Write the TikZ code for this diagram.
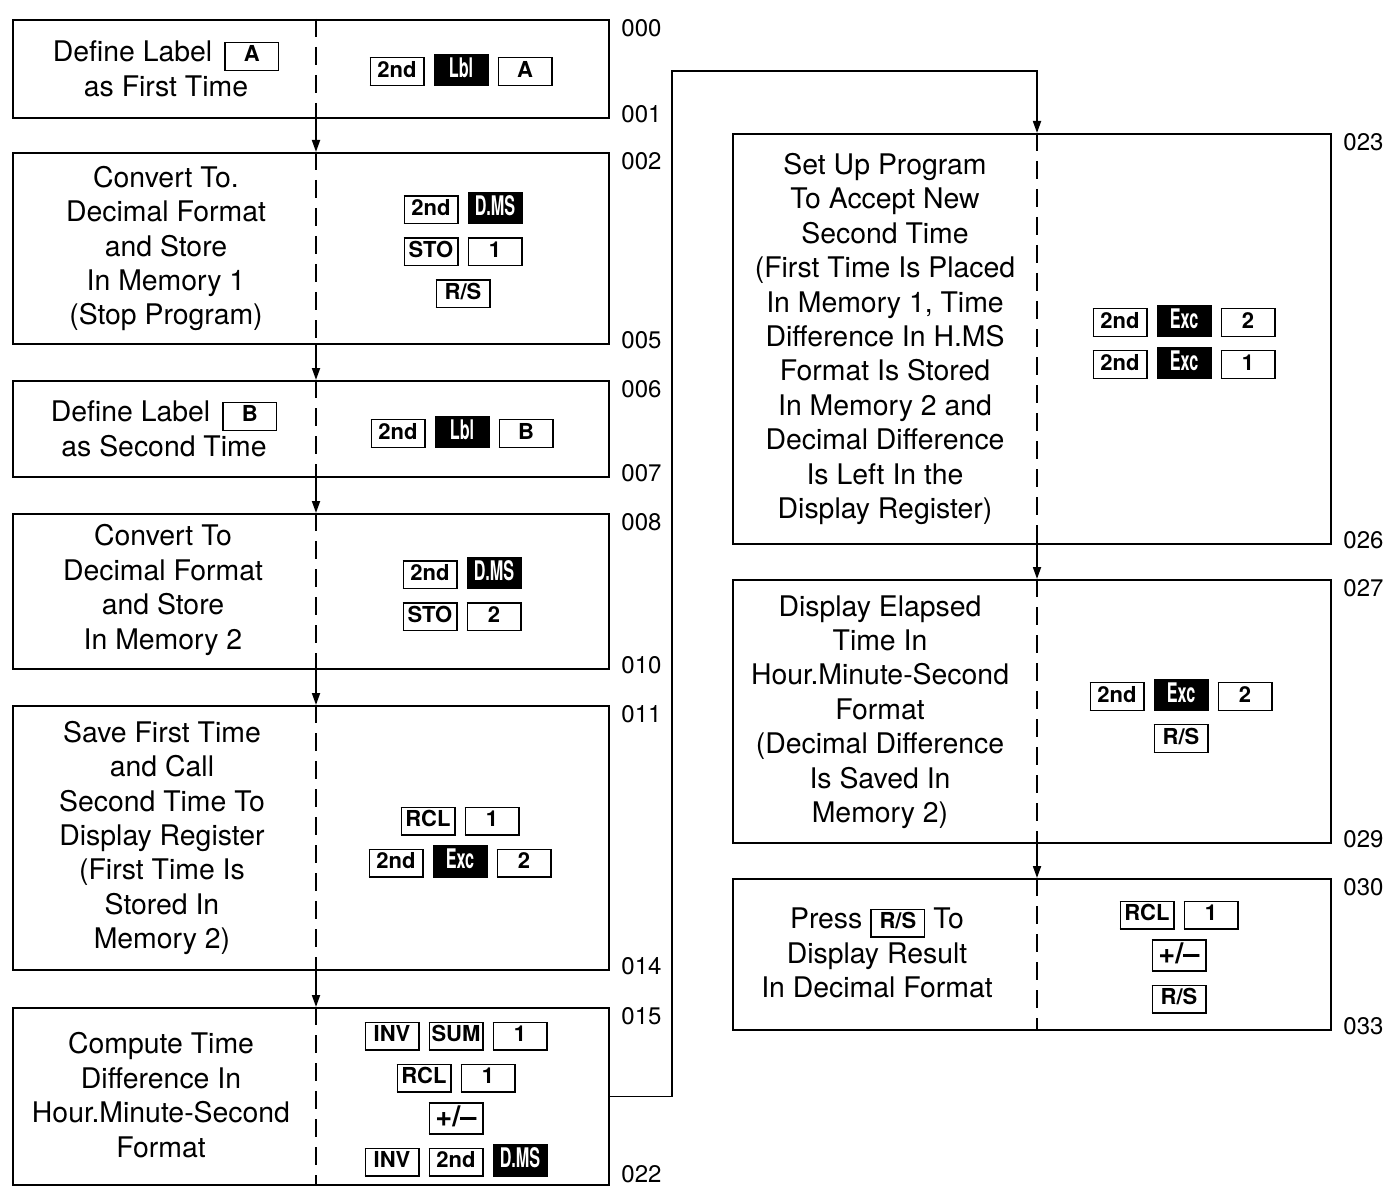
\documentclass[tikz,border=0pt]{standalone}
\usepackage{fontspec}
\setmainfont{TeX Gyre Heros}
\usepackage{graphicx}
\usetikzlibrary{arrows.meta, calc}

% calculator keys
\setlength{\fboxrule}{0.7pt}
\newcommand{\kc}[1]{{\setlength{\fboxsep}{1pt}\framebox[27.5pt]{\fontsize{11}{11}\selectfont\bfseries\rule[-2.8pt]{0pt}{11.1pt}#1}}}
\newcommand{\kb}[1]{{\setlength{\fboxsep}{1.7pt}\colorbox{black}{\makebox[24.1pt]{\rule[-2.8pt]{0pt}{11.1pt}\color{white}\scalebox{0.6}[1]{\fontsize{13.5}{12}\selectfont\bfseries #1}}}}}
\newcommand{\kpm}{\kc{\fontsize{14.5}{11}\selectfont\raisebox{-0.5pt}{+/--}}}
\newcommand{\kg}{\hspace{4.5pt}}

\begin{document}
\begin{tikzpicture}[
        x=0.5pt, y=-0.5pt,
        % Define styles
        stepbox/.style={draw, line width=1pt, inner sep=0pt},
        leftbox/.style={stepbox, minimum width=298pt},
        rightbox/.style={stepbox, minimum width=299pt},
        desc/.style={align=center, inner sep=0pt, font=\fontsize{14.2}{17.2}\selectfont},
        keys/.style={align=center, inner sep=0pt, font=\fontsize{11}{21}\selectfont},
        addr/.style={anchor=west, inner sep=0pt, font=\fontsize{12}{12}\selectfont},
        divider/.style={line width=0.8pt, dash pattern=on 9pt off 5pt},
        arrow/.style={-{Triangle[length=6pt, width=4pt]}, line width=0.9pt}
    ]

    \useasboundingbox (0, 0) rectangle (1384, 1187);

    % 1. Left column: program steps 000-022
    \node[leftbox, minimum height=49pt] (b1) at (311, 69) {};
    \node[leftbox, minimum height=95.5pt] (b2) at (311, 248.5) {};
    \node[leftbox, minimum height=48pt] (b3) at (311, 429) {};
    \node[leftbox, minimum height=77.5pt] (b4) at (311, 591.5) {};
    \node[leftbox, minimum height=132pt] (b5) at (311, 838) {};
    \node[leftbox, minimum height=88.5pt] (b6) at (311, 1096.5) {};

    \node[desc] (d1) at (166, 69) {Define Label\hspace{6pt}\kc{A}\\ as First Time};
    \node[keys] (k1) at (461, 70) {\kc{2nd}\kg\kb{Lbl}\kg\kc{A}};

    \node[desc] (d2) at (166, 248.5) {Convert To.\\ Decimal Format\\ and Store\\ In Memory 1\\ (Stop Program)};
    \node[keys] (k2) at (463, 250) {\kc{2nd}\kg\kb{D.MS}\\ \kc{STO}\kg\kc{1}\\ \kc{R/S}};

    \node[desc] (d3) at (164, 429) {Define Label\hspace{6pt}\kc{B}\\ as Second Time};
    \node[keys] (k3) at (462, 432) {\kc{2nd}\kg\kb{Lbl}\kg\kc{B}};

    \node[desc] (d4) at (163, 590) {Convert To\\ Decimal Format\\ and Store\\ In Memory 2};
    \node[keys] (k4) at (462, 594) {\kc{2nd}\kg\kb{D.MS}\\ \kc{STO}\kg\kc{2}};

    \node[desc] (d5) at (162, 838) {Save First Time\\ and Call\\ Second Time To\\ Display Register\\ (First Time Is\\ Stored In\\ Memory 2)};
    \node[keys] (k5) at (460, 842) {\kc{RCL}\kg\kc{1}\\ \kc{2nd}\kg\kb{Exc}\kg\kc{2}};

    \node[desc] (d6) at (161, 1095) {Compute Time\\ Difference In\\ Hour.Minute-Second\\ Format};
    \node[keys] (k6) at (456, 1099) {\kc{INV}\kg\kc{SUM}\kg\kc{1}\\ \kc{RCL}\kg\kc{1}\\ \kpm\\ \kc{INV}\kg\kc{2nd}\kg\kb{D.MS}};

    % 2. Right column: program steps 023-033
    \node[rightbox, minimum height=205pt] (b7) at (1032, 339) {};
    \node[rightbox, minimum height=131.5pt] (b8) at (1032, 711.5) {};
    \node[rightbox, minimum height=75.5pt] (b9) at (1032, 954.5) {};

    \node[desc] (d7) at (885, 339) {Set Up Program\\ To Accept New\\ Second Time\\ (First Time Is Placed\\ In Memory 1, Time\\ Difference In H.MS\\ Format Is Stored\\ In Memory 2 and\\ Decimal Difference\\ Is Left In the\\ Display Register)};
    \node[keys] (k7) at (1184, 342) {\kc{2nd}\kg\kb{Exc}\kg\kc{2}\\ \kc{2nd}\kg\kb{Exc}\kg\kc{1}};

    \node[desc] (d8) at (880, 712) {Display Elapsed\\ Time In\\ Hour.Minute-Second\\ Format\\ (Decimal Difference\\ Is Saved In\\ Memory 2)};
    \node[keys] (k8) at (1181, 716) {\kc{2nd}\kg\kb{Exc}\kg\kc{2}\\ \kc{R/S}};

    \node[desc] (d9) at (877, 953) {Press\hspace{4pt}\kc{R/S}\hspace{4pt}To\\ Display Result\\ In Decimal Format};
    \node[keys] (k9) at (1179, 957) {\kc{RCL}\kg\kc{1}\\ \kpm\\ \kc{R/S}};

    % 3. Dashed dividers between description and keystrokes
    \draw[divider] ([xshift=2.5pt]b1.north) -- ([xshift=2.5pt]b1.south);
    \draw[divider] ([xshift=2.5pt]b2.north) -- ([xshift=2.5pt]b2.south);
    \draw[divider] ([xshift=2.5pt]b3.north) -- ([xshift=2.5pt]b3.south);
    \draw[divider] ([xshift=2.5pt]b4.north) -- ([xshift=2.5pt]b4.south);
    \draw[divider] ([xshift=2.5pt]b5.north) -- ([xshift=2.5pt]b5.south);
    \draw[divider] ([xshift=2.5pt]b6.north) -- ([xshift=2.5pt]b6.south);
    \draw[divider] ([xshift=2.5pt]b7.north) -- ([xshift=2.5pt]b7.south);
    \draw[divider] ([xshift=2.5pt]b8.north) -- ([xshift=2.5pt]b8.south);
    \draw[divider] ([xshift=2.5pt]b9.north) -- ([xshift=2.5pt]b9.south);

    % 4. Step numbers
    \node[addr] (a000) at ([xshift=5.5pt, yshift=-4.5pt]b1.north east) {000};
    \node[addr] (a001) at ([xshift=5.5pt, yshift=2.5pt]b1.south east) {001};
    \node[addr] (a002) at ([xshift=5.5pt, yshift=-4.5pt]b2.north east) {002};
    \node[addr] (a005) at ([xshift=5.5pt, yshift=2.5pt]b2.south east) {005};
    \node[addr] (a006) at ([xshift=5.5pt, yshift=-4.5pt]b3.north east) {006};
    \node[addr] (a007) at ([xshift=5.5pt, yshift=2.5pt]b3.south east) {007};
    \node[addr] (a008) at ([xshift=5.5pt, yshift=-4.5pt]b4.north east) {008};
    \node[addr] (a010) at ([xshift=5.5pt, yshift=2.5pt]b4.south east) {010};
    \node[addr] (a011) at ([xshift=5.5pt, yshift=-4.5pt]b5.north east) {011};
    \node[addr] (a014) at ([xshift=5.5pt, yshift=2.5pt]b5.south east) {014};
    \node[addr] (a015) at ([xshift=5.5pt, yshift=-4.5pt]b6.north east) {015};
    \node[addr] (a022) at ([xshift=5.5pt, yshift=6pt]b6.south east) {022};
    \node[addr] (a023) at ([xshift=5.5pt, yshift=-4.5pt]b7.north east) {023};
    \node[addr] (a026) at ([xshift=5.5pt, yshift=2.5pt]b7.south east) {026};
    \node[addr] (a027) at ([xshift=5.5pt, yshift=-4.5pt]b8.north east) {027};
    \node[addr] (a029) at ([xshift=5.5pt, yshift=2.5pt]b8.south east) {029};
    \node[addr] (a030) at ([xshift=5.5pt, yshift=-4.5pt]b9.north east) {030};
    \node[addr] (a033) at ([xshift=5.5pt, yshift=2.5pt]b9.south east) {033};

    % 5. Program flow
    \draw[arrow] ([xshift=2.5pt]b1.south) -- ([xshift=2.5pt]b2.north);
    \draw[arrow] ([xshift=2.5pt]b2.south) -- ([xshift=2.5pt]b3.north);
    \draw[arrow] ([xshift=2.5pt]b3.south) -- ([xshift=2.5pt]b4.north);
    \draw[arrow] ([xshift=2.5pt]b4.south) -- ([xshift=2.5pt]b5.north);
    \draw[arrow] ([xshift=2.5pt]b5.south) -- ([xshift=2.5pt]b6.north);

    % jump back up to the right column
    \coordinate (loop) at (672, 71);
    \draw[arrow] (b6.east) -| (loop) -| ([xshift=2.5pt]b7.north);

    \draw[arrow] ([xshift=2.5pt]b7.south) -- ([xshift=2.5pt]b8.north);
    \draw[arrow] ([xshift=2.5pt]b8.south) -- ([xshift=2.5pt]b9.north);

\end{tikzpicture}
\end{document}
